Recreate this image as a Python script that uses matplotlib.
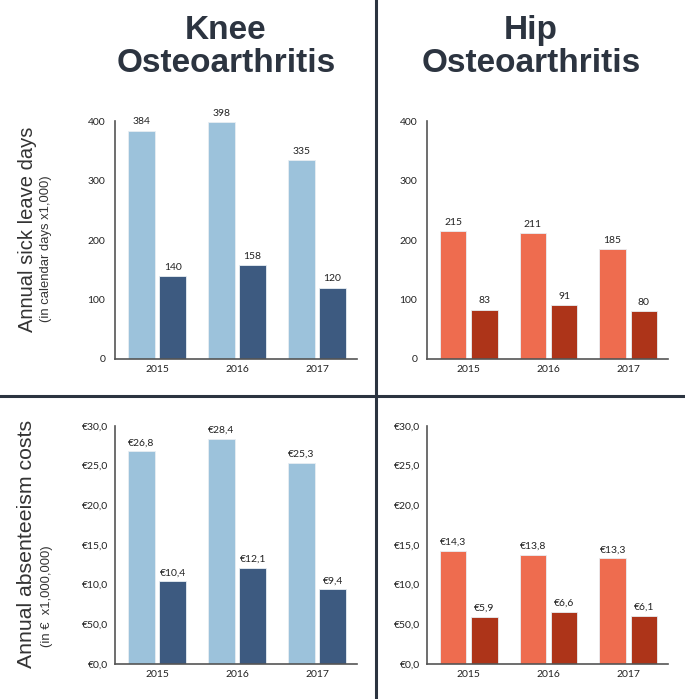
import matplotlib
matplotlib.use("Agg")
import matplotlib.pyplot as plt
from matplotlib import font_manager as fm
from matplotlib.lines import Line2D

years = ["2015", "2016", "2017"]
knee_days_a = [384, 398, 335]
knee_days_b = [140, 158, 120]
hip_days_a = [215, 211, 185]
hip_days_b = [83, 91, 80]
knee_cost_a = [26.8, 28.4, 25.3]
knee_cost_b = [10.4, 12.1, 9.4]
hip_cost_a = [14.3, 13.8, 13.3]
hip_cost_b = [5.9, 6.6, 6.1]
days_ticks = [0, 100, 200, 300, 400]
cost_ticks = [0, 5, 10, 15, 20, 25, 30]
cost_ticklabels = ["€0,0", "€50,0", "€10,0", "€15,0", "€20,0", "€25,0", "€30,0"]

names = {f.name for f in fm.fontManager.ttflist}
tickfont = "Lato" if "Lato" in names else "DejaVu Sans"
sans = "Liberation Sans"

W, H = 685, 699
fig = plt.figure(figsize=(W / 100, H / 100), dpi=100)

def rect(x0, y0, x1, y1):
    return [x0 / W, 1 - y1 / H, (x1 - x0) / W, (y1 - y0) / H]

def fy(y):
    return 1 - y / H

light_blue, dark_blue = "#9cc2db", "#3d5a80"
salmon, dark_red = "#ee6c4f", "#ad3419"
txtc = "#2c3440"

def panel(r, a, b, ca, cb, ticks, ticklabels, ymax, fmt, ypad):
    ax = fig.add_axes(r)
    x = range(len(years))
    off, w = 0.195, 0.33
    ba = ax.bar([i - off for i in x], a, w, color=ca, edgecolor="#e8eef3", linewidth=0.6)
    bb = ax.bar([i + off for i in x], b, w, color=cb, edgecolor="#e8eef3", linewidth=0.6)
    for bars, vals in ((ba, a), (bb, b)):
        for rr, v in zip(bars, vals):
            ax.annotate(fmt(v), (rr.get_x() + rr.get_width() / 2, v), xytext=(0, 3),
                        textcoords="offset points", ha="center", va="bottom",
                        fontsize=7.5, family=tickfont, color="#222222")
    ax.set_xlim(-0.525, 2.5)
    ax.set_ylim(0, ymax)
    ax.set_xticks(list(x))
    ax.set_xticklabels(years, fontsize=7.5, family=tickfont, color="#222222")
    ax.set_yticks(ticks)
    ax.set_yticklabels(ticklabels, fontsize=7.5, family=tickfont, color="#222222")
    ax.tick_params(length=0)
    ax.tick_params(axis="y", pad=ypad)
    ax.tick_params(axis="x", pad=4.5)
    for s in ("top", "right"):
        ax.spines[s].set_visible(False)
    for s in ("left", "bottom"):
        ax.spines[s].set_color("#555555")
        ax.spines[s].set_linewidth(1.2)
    return ax

fi = lambda v: f"{v:.0f}"
fe = lambda v: "€" + f"{v:.1f}".replace(".", ",")

panel(rect(115, 121, 357, 359), knee_days_a, knee_days_b, light_blue, dark_blue,
      days_ticks, [str(t) for t in days_ticks], 400, fi, 7)
panel(rect(427, 121, 668, 359), hip_days_a, hip_days_b, salmon, dark_red,
      days_ticks, [str(t) for t in days_ticks], 400, fi, 7)
panel(rect(115, 426, 357, 664), knee_cost_a, knee_cost_b, light_blue, dark_blue,
      cost_ticks, cost_ticklabels, 30, fe, 5)
panel(rect(427, 426, 668, 664), hip_cost_a, hip_cost_b, salmon, dark_red,
      cost_ticks, cost_ticklabels, 30, fe, 5)

# dividers
fig.add_artist(Line2D([376 / W, 376 / W], [0, 1], color=txtc, lw=2.2))
fig.add_artist(Line2D([0, 1], [fy(396), fy(396)], color=txtc, lw=2.2))

# titles
for cx, first in ((226, "Knee"), (531, "Hip")):
    fig.text(cx / W, fy(39), first, ha="center", va="baseline",
             fontsize=24, fontweight="bold", family=sans, color=txtc)
    fig.text(cx / W, fy(72), "Osteoarthritis", ha="center", va="baseline",
             fontsize=24, fontweight="bold", family=sans, color=txtc)

# y labels
fig.text(28 / W, fy(229), "Annual sick leave days", rotation=90, ha="center", va="center",
         fontsize=14.5, family=sans, color="#333333")
fig.text(46 / W, fy(249), "(in calendar days x1,000)", rotation=90, ha="center", va="center",
         fontsize=9.4, family=sans, color="#333333")
fig.text(27 / W, fy(544), "Annual absenteeism costs", rotation=90, ha="center", va="center",
         fontsize=15.3, family=sans, color="#333333")
fig.text(47 / W, fy(596), "(in €  x1,000,000)", rotation=90, ha="center", va="center",
         fontsize=9.4, family=sans, color="#333333")

fig.savefig("out.png", dpi=100)
